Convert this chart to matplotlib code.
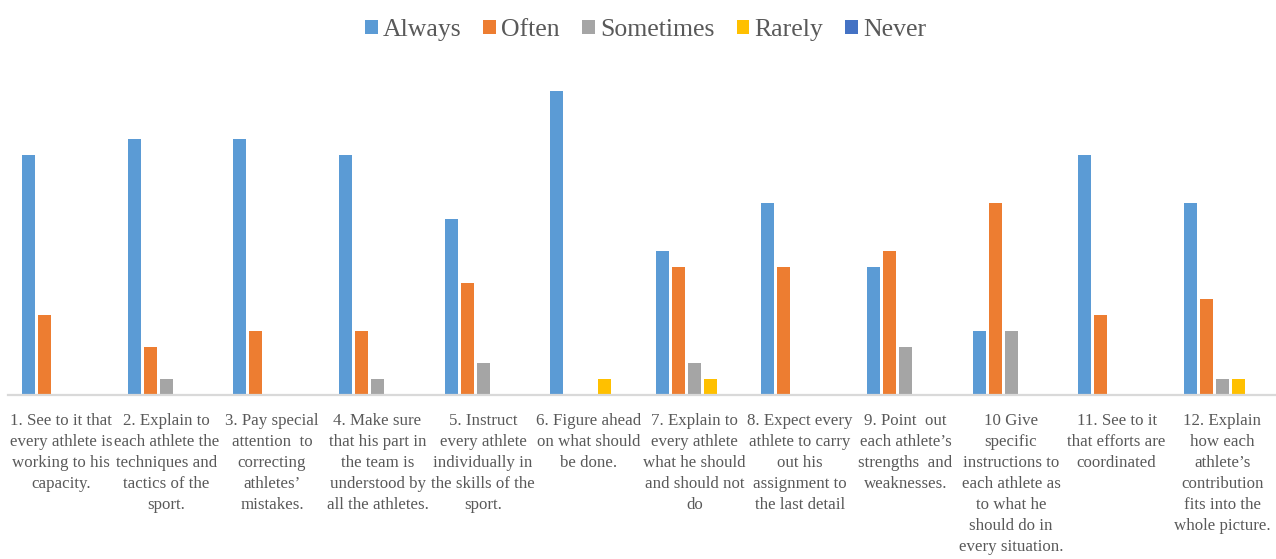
import matplotlib
matplotlib.use("Agg")
import matplotlib.pyplot as plt
import numpy as np
from matplotlib.patches import Patch

categories = [
    "1. See to it that\nevery athlete is\nworking to his\ncapacity.",
    "2. Explain to\neach athlete the\ntechniques and\ntactics of the\nsport.",
    "3. Pay special\nattention  to\ncorrecting\nathletes\u2019\nmistakes.",
    "4. Make sure\nthat his part in\nthe team is\nunderstood by\nall the athletes.",
    "5. Instruct\nevery athlete\nindividually in\nthe skills of the\nsport.",
    "6. Figure ahead\non what should\nbe done.",
    "7. Explain to\nevery athlete\nwhat he should\nand should not\ndo",
    "8. Expect every\nathlete to carry\nout his\nassignment to\nthe last detail",
    "9. Point  out\neach athlete\u2019s\nstrengths  and\nweaknesses.",
    "10 Give\nspecific\ninstructions to\neach athlete as\nto what he\nshould do in\nevery situation.",
    "11. See to it\nthat efforts are\ncoordinated",
    "12. Explain\nhow each\nathlete\u2019s\ncontribution\nfits into the\nwhole picture.",
]
series_names = ["Always", "Often", "Sometimes", "Rarely", "Never"]
always = [15, 16, 16, 15, 11, 19, 9, 12, 8, 4, 15, 12]
often = [5, 3, 4, 4, 7, 0, 8, 8, 9, 12, 5, 6]
sometimes = [0, 1, 0, 1, 2, 0, 2, 0, 3, 4, 0, 1]
rarely = [0, 0, 0, 0, 0, 1, 1, 0, 0, 0, 0, 1]
never = [0, 0, 0, 0, 0, 0, 0, 0, 0, 0, 0, 0]
colors = ["#5B9BD5", "#ED7D31", "#A5A5A5", "#FFC000", "#4472C4"]

W, H = 1276, 559
fig = plt.figure(figsize=(W / 100, H / 100), dpi=100)
base_y = 395
top_y = 75
ax = fig.add_axes([8 / W, 1 - base_y / H, (1275 - 8) / W, (base_y - top_y) / H])

x = np.arange(len(categories))
step = 0.1515
width = 0.123
data = [always, often, sometimes, rarely, never]
for i, (vals, c) in enumerate(zip(data, colors)):
    ax.bar(x + (i - 2) * step, vals, width=width, color=c, edgecolor="none")

ax.set_xlim(-0.5, len(categories) - 0.5)
ax.set_ylim(0, 20)
for s in ["top", "right", "left"]:
    ax.spines[s].set_visible(False)
ax.spines["bottom"].set_color("#D9D9D9")
ax.spines["bottom"].set_linewidth(1.6)
ax.set_yticks([])
ax.set_xticks(x)
ax.set_xticklabels(categories, fontsize=12.2, family="Liberation Serif",
                   color="#595959", linespacing=1.42, va="top", ha="center")
ax.tick_params(axis="x", length=0, pad=13)

handles = [Patch(facecolor=c, edgecolor="none") for c in colors]
leg = fig.legend(handles, series_names, loc="center", bbox_to_anchor=(0.506, 1 - 30 / H),
                 ncol=5, frameon=False, prop={"family": "Liberation Serif", "size": 18.5},
                 handlelength=0.5, handleheight=0.5, handletextpad=0.2, columnspacing=0.86)
for t in leg.get_texts():
    t.set_color("#595959")

fig.savefig("out.png", dpi=100, facecolor="white")
